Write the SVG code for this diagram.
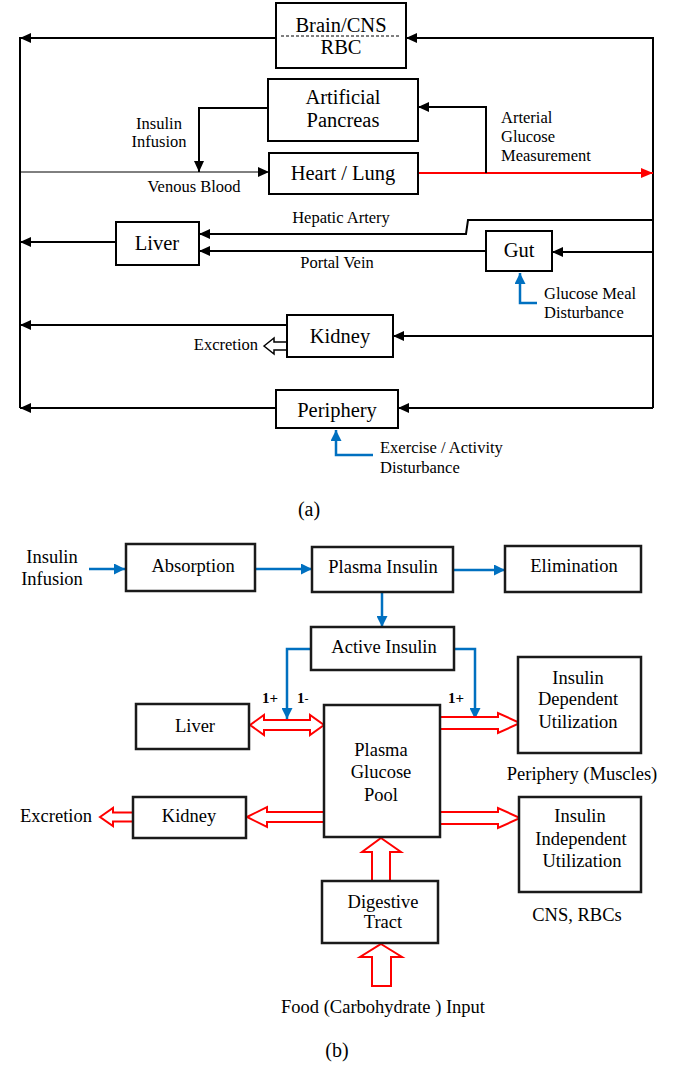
<svg xmlns="http://www.w3.org/2000/svg" width="678" height="1066" viewBox="0 0 678 1066" font-family="'Liberation Serif', 'Times New Roman', serif">
<style>
text{font-family:"Liberation Serif","Times New Roman",serif;fill:#000}
.bx{fill:#fff;stroke:#000;stroke-width:2}
.bx2{fill:#fff;stroke:#1a1a1a;stroke-width:2.5}
.ta{font-size:20.5px;text-anchor:middle}
.la{font-size:16.5px}
.tb{font-size:18.5px;text-anchor:middle}
.c{text-anchor:middle}
.k{fill:none;stroke:#000;stroke-width:2}
.kt{fill:none;stroke:#000;stroke-width:1}
.r{fill:none;stroke:#f00;stroke-width:2}
.b{fill:none;stroke:#0070C0;stroke-width:2.5}
.ho{fill:#fff;stroke:#f00;stroke-width:2;stroke-linejoin:miter}
.hk{fill:#fff;stroke:#000;stroke-width:1.5}
.one{font-size:15px;font-weight:bold}
</style>
<defs>
<marker id="ak" markerUnits="userSpaceOnUse" markerWidth="11" markerHeight="10" refX="11" refY="5" orient="auto"><path d="M0,0 L11,5 L0,10 z" fill="#000"/></marker>
<marker id="ar" markerUnits="userSpaceOnUse" markerWidth="12" markerHeight="10" refX="12" refY="5" orient="auto"><path d="M0,0 L12,5 L0,10 z" fill="#f00"/></marker>
<marker id="ab" markerUnits="userSpaceOnUse" markerWidth="11" markerHeight="11" refX="11" refY="5.5" orient="auto"><path d="M0,0 L11,5.5 L0,11 z" fill="#0070C0"/></marker>
</defs>

<g id="connectors">
<!-- (a) -->
<path class="k" d="M20,37 V408"/>
<path class="k" d="M653,37 V408"/>
<path class="k" d="M276,38 H20" marker-end="url(#ak)"/>
<path class="k" d="M653,38 H406" marker-end="url(#ak)"/>
<path class="k" d="M268,108 H199 V172" marker-end="url(#ak)"/>
<path class="kt" d="M20,172 H269" marker-end="url(#ak)"/>
<path class="r" d="M418,173 H653" marker-end="url(#ar)"/>
<path class="k" d="M486,173 V107 H418" marker-end="url(#ak)"/>
<path class="k" d="M653,220 H468 L466,234 H199" marker-end="url(#ak)"/>
<path class="k" d="M116,242 H20" marker-end="url(#ak)"/>
<path class="k" d="M653,252 H552" marker-end="url(#ak)"/>
<path class="k" d="M486,251 H199" marker-end="url(#ak)"/>
<path class="b" d="M537,303 H520 V273" marker-end="url(#ab)"/>
<path class="k" d="M287,325 H20" marker-end="url(#ak)"/>
<path class="k" d="M653,336 H393" marker-end="url(#ak)"/>
<polygon class="hk" points="264,346 274,338 274,342 287,342 287,350 274,350 274,354"/>
<path class="k" d="M276,408 H20" marker-end="url(#ak)"/>
<path class="k" d="M653,408 H398" marker-end="url(#ak)"/>
<path class="b" d="M373,455 H336 V430" marker-end="url(#ab)"/>
<!-- (b) -->
<path class="b" d="M89,569 H125" marker-end="url(#ab)"/>
<path class="b" d="M255,569 H312" marker-end="url(#ab)"/>
<path class="b" d="M453,570 H505" marker-end="url(#ab)"/>
<path class="b" d="M382,592 V627" marker-end="url(#ab)"/>
<path class="b" d="M311,649 H287 V719" marker-end="url(#ab)"/>
<path class="b" d="M454,649 H475 V719" marker-end="url(#ab)"/>
<polygon class="ho" points="250,725 264,715 264,720 310,720 310,715 324,725 310,735 310,730 264,730 264,735"/>
<polygon class="ho" points="247,817 267,807 267,812 324,812 324,822 267,822 267,827"/>
<polygon class="ho" points="100,817 113,808 113,812.5 133,812.5 133,821.5 113,821.5 113,826"/>
<polygon class="ho" points="440,717 498,717 498,713 520,723 498,733 498,729 440,729"/>
<polygon class="ho" points="440,812 498,812 498,808 520,818 498,828 498,824 440,824"/>
<polygon class="ho" points="381,838 401,852 390,852 390,881 372,881 372,852 362,852"/>
<polygon class="ho" points="381,944 402,957 391,957 391,986 372,986 372,957 360,957"/>
</g>

<!-- (a) nodes -->
<g id="brain">
<rect class="bx" x="276" y="3" width="130" height="65"/>
<line x1="281" y1="36" x2="401" y2="36" stroke="#000" stroke-width="1" stroke-dasharray="3,2"/>
<text class="ta" x="341" y="32">Brain/CNS</text>
<text class="ta" x="341" y="54">RBC</text>
</g>
<g id="pancreas">
<rect class="bx" x="268" y="79" width="150" height="62"/>
<text class="ta" x="343" y="104">Artificial</text>
<text class="ta" x="343" y="127">Pancreas</text>
</g>
<g id="heartlung">
<rect class="bx" x="269" y="153" width="149" height="41"/>
<text class="ta" x="343" y="180">Heart / Lung</text>
</g>
<g id="liverA">
<rect class="bx" x="116" y="222" width="83" height="43"/>
<text class="ta" x="157" y="250">Liver</text>
</g>
<g id="gut">
<rect class="bx" x="486" y="231" width="66" height="40"/>
<text class="ta" x="519" y="257">Gut</text>
</g>
<g id="kidneyA">
<rect class="bx" x="287" y="315" width="106" height="42"/>
<text class="ta" x="340" y="343">Kidney</text>
</g>
<g id="peripheryA">
<rect class="bx" x="276" y="390" width="122" height="38"/>
<text class="ta" x="337" y="417">Periphery</text>
</g>
<g id="labelsA">
<text class="la c" x="159" y="129">Insulin</text>
<text class="la c" x="159" y="147">Infusion</text>
<text class="la c" x="194" y="192">Venous Blood</text>
<text class="la" x="501" y="123">Arterial</text>
<text class="la" x="501" y="142">Glucose</text>
<text class="la" x="501" y="161">Measurement</text>
<text class="la c" x="341" y="223">Hepatic Artery</text>
<text class="la c" x="337" y="268">Portal Vein</text>
<text class="la" x="544" y="299">Glucose Meal</text>
<text class="la" x="544" y="318">Disturbance</text>
<text class="la" x="258" y="350" text-anchor="end" font-size="15">Excretion</text>
<text class="la" x="380" y="453">Exercise / Activity</text>
<text class="la" x="380" y="473">Disturbance</text>
<text x="309" y="516" font-size="20" text-anchor="middle">(a)</text>
</g>

<!-- (b) nodes -->
<g id="absorption">
<rect class="bx2" x="126" y="544" width="129" height="47"/>
<text class="tb" x="193" y="572">Absorption</text>
</g>
<g id="plasmaInsulin">
<rect class="bx2" x="312" y="547" width="141" height="45"/>
<text class="tb" x="383" y="573">Plasma Insulin</text>
</g>
<g id="elimination">
<rect class="bx2" x="505" y="546" width="136" height="46"/>
<text class="tb" x="574" y="572">Elimination</text>
</g>
<g id="activeInsulin">
<rect class="bx2" x="311" y="627" width="143" height="43"/>
<text class="tb" x="384" y="653">Active Insulin</text>
</g>
<g id="liverB">
<rect class="bx2" x="136" y="704" width="113" height="45"/>
<text class="tb" x="195" y="732">Liver</text>
</g>
<g id="pool">
<rect class="bx2" x="324" y="705" width="116" height="132"/>
<text class="tb" x="381" y="756">Plasma</text>
<text class="tb" x="381" y="778">Glucose</text>
<text class="tb" x="381" y="801">Pool</text>
</g>
<g id="kidneyB">
<rect class="bx2" x="133" y="797" width="113" height="41"/>
<text class="tb" x="189" y="822">Kidney</text>
</g>
<g id="insDep">
<rect class="bx2" x="518" y="657" width="123" height="96"/>
<text class="tb" x="578" y="684">Insulin</text>
<text class="tb" x="578" y="705">Dependent</text>
<text class="tb" x="578" y="728">Utilization</text>
</g>
<g id="insIndep">
<rect class="bx2" x="519" y="797" width="122" height="95"/>
<text class="tb" x="580" y="822">Insulin</text>
<text class="tb" x="581" y="845">Independent</text>
<text class="tb" x="582" y="867">Utilization</text>
</g>
<g id="digestive">
<rect class="bx2" x="322" y="881" width="116" height="62"/>
<text class="tb" x="383" y="908">Digestive</text>
<text class="tb" x="383" y="928">Tract</text>
</g>
<g id="labelsB">
<text class="tb" x="52" y="563">Insulin</text>
<text class="tb" x="52" y="585">Infusion</text>
<text class="one" x="262" y="703">1+</text>
<text class="one" x="297" y="703">1<tspan font-weight="normal" font-size="12">-</tspan></text>
<text class="one" x="448" y="703">1+</text>
<text class="tb" x="56" y="822">Excretion</text>
<text class="tb" x="582" y="780">Periphery (Muscles)</text>
<text class="tb" x="577" y="921">CNS,  RBCs</text>
<text class="tb" x="383" y="1013">Food (Carbohydrate ) Input</text>
<text x="337" y="1057" font-size="20" text-anchor="middle">(b)</text>
</g>
</svg>
